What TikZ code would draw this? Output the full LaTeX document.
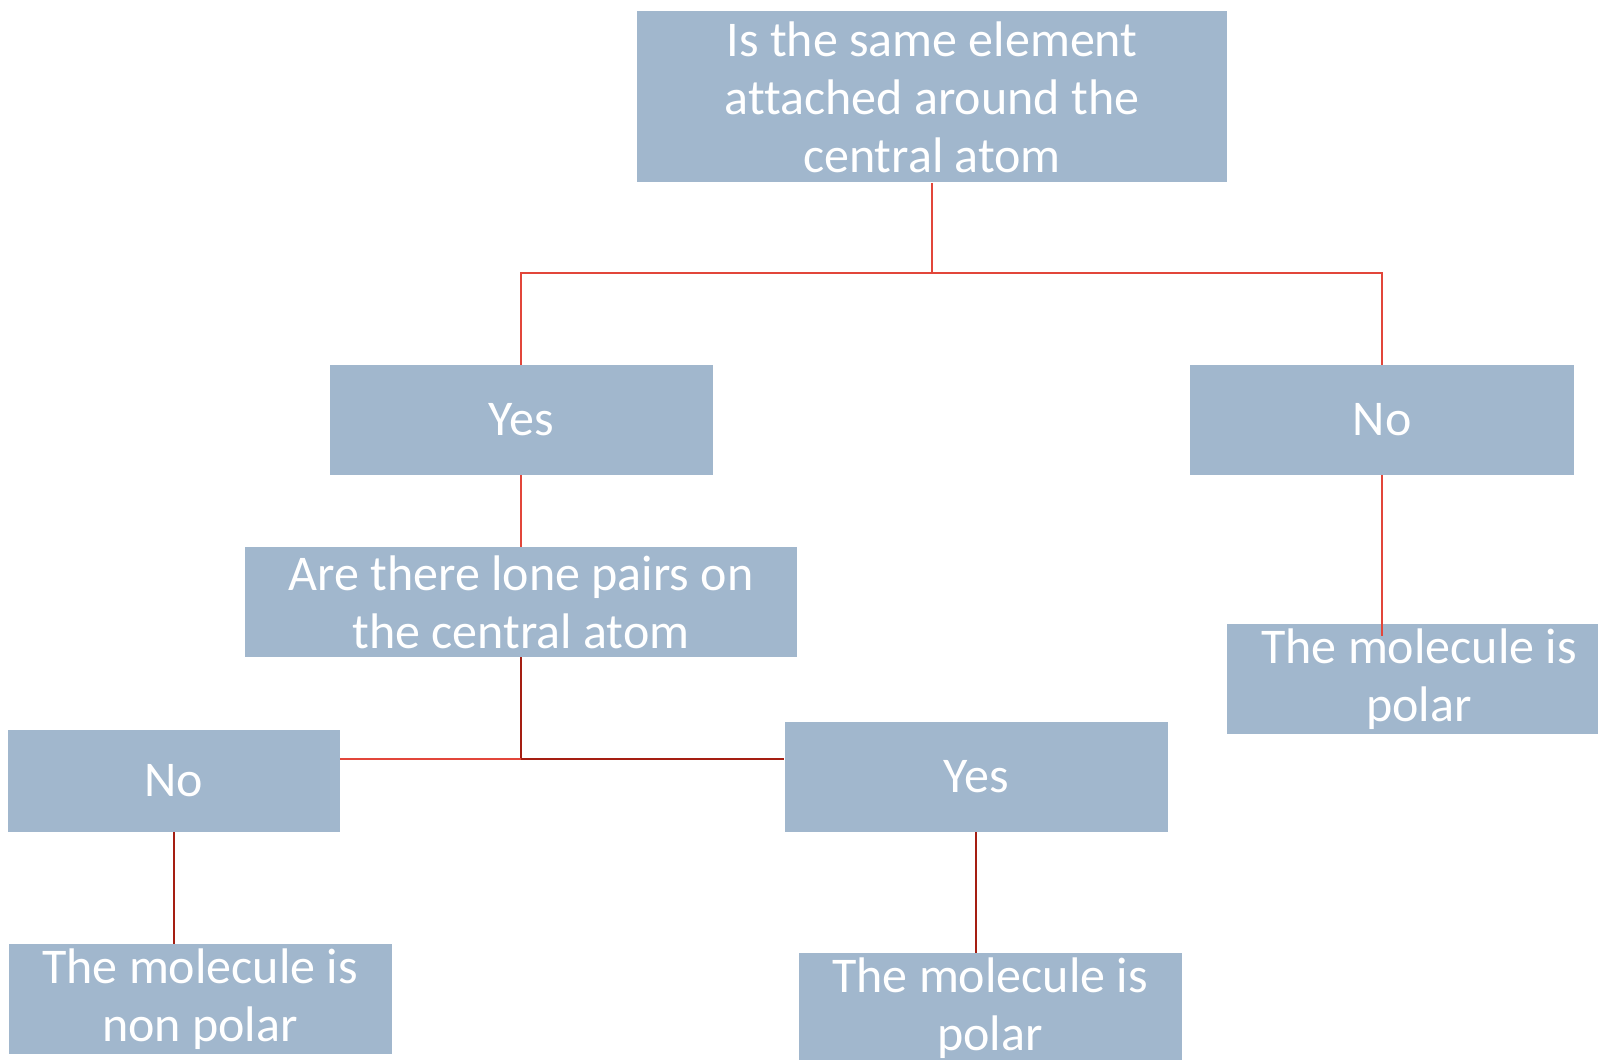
\documentclass[tikz,border=0pt]{standalone}
\usepackage{fontspec}
\setmainfont{Carlito}[Ligatures=NoCommon]
\definecolor{boxblue}{HTML}{A1B7CD}
\definecolor{linkred}{HTML}{E2463A}
\definecolor{darkred}{HTML}{A51E12}
\tikzset{
  box/.style={rectangle,fill=boxblue,text=white,align=center,inner sep=0pt,
    font=\fontsize{25pt}{29pt}\selectfont},
  link/.style={linkred,line width=1pt},
  darklink/.style={darkred,line width=1pt}
}
\begin{document}
\begin{tikzpicture}[x=0.5pt,y=-0.5pt]
\useasboundingbox (0,0) rectangle (1598,1059);
% boxes
\node[box,minimum width=295pt,minimum height=85.5pt] (same) at (932,97) {Is the same element\\attached around the\\central atom};
\node[box,minimum width=191.5pt,minimum height=55pt] (yesA) at (521,420) {Yes};
\node[box,minimum width=192pt,minimum height=55pt] (noA) at (1382,420) {No};
\node[box,minimum width=276pt,minimum height=55pt] (lone) at (521,602) {Are there lone pairs on\\the central atom};
\node[box,minimum width=166pt,minimum height=51pt] (noB) at (174,781) {No};
\node[box,minimum width=191.5pt,minimum height=55pt] (yesB) at (976,777) {Yes};
\node[box,minimum width=191.5pt,minimum height=55pt] (nonpolar) at (200,999) {The molecule is\\non polar};
\node[box,minimum width=191.5pt,minimum height=55pt] (polarB) at (990,1008) {The molecule is\\polar};
\node[box,minimum width=192pt,minimum height=55pt] (polarA) at (1419,679) {The molecule is\\polar};
% connectors
\coordinate (fork) at (932,273);
\coordinate (split) at (521,759);
\draw[link] (same.south) -- (fork);
\draw[link] (yesA.north) |- (fork) -| (noA.north);
\draw[link] (yesA.south) -- (lone.north);
\draw[link] (noA.south) -- ([yshift=-6pt]noA.south |- polarA.north);
\draw[darklink] (lone.south) -- (split);
\draw[link] (split) -- (split -| noB.east);
\draw[darklink] (split) -- (split -| yesB.west);
\draw[darklink] (noB.south) -- (noB.south |- nonpolar.north);
\draw[darklink] (yesB.south) -- (yesB.south |- polarB.north);
\end{tikzpicture}
\end{document}
